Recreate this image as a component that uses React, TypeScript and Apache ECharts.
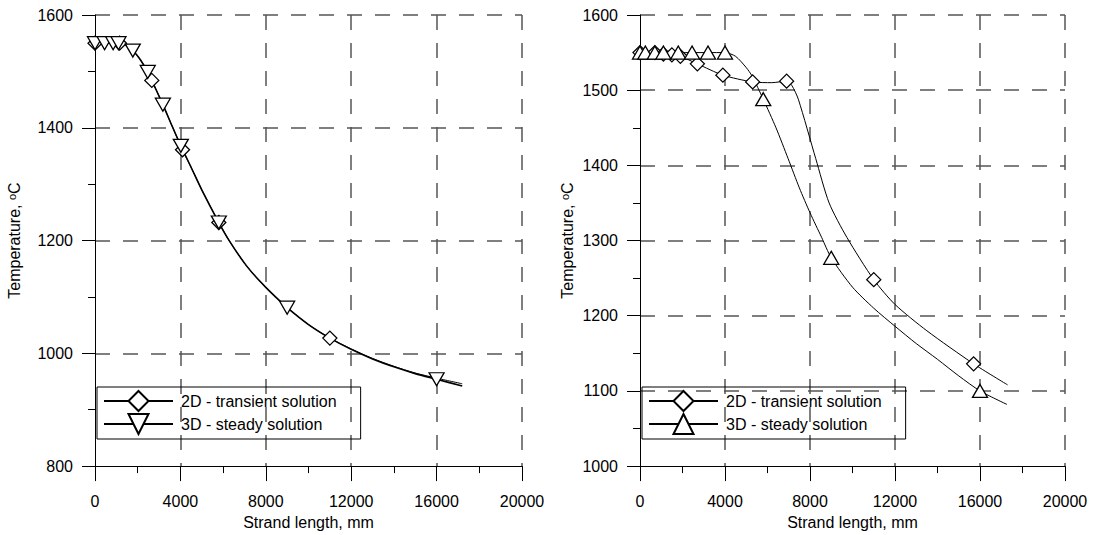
import React, { useEffect, useRef } from "react";
import * as echarts from "echarts";

const FONT = "'Liberation Sans', Arial, Helvetica, sans-serif";

// ---------- Left panel ----------
const L_X_TICKS = { min: 0, max: 20000, interval: 4000 };
const L_Y_TICKS = { min: 800, max: 1600, interval: 200 };

// 2D - transient solution (diamonds)
const L2D_MARK_X = [0, 1150, 2660, 4100, 5800, 11000];
const L2D_MARK_Y = [1550, 1550, 1484, 1361, 1232, 1027];
const L2D_LINE_X = [500, 1400, 1770, 2100, 2470, 3180, 3600, 4500, 5000, 6300, 7000, 7500, 8000, 8430, 9000, 10000, 12000, 13000, 14000, 15000, 16000, 17200];
const L2D_LINE_Y = [1550, 1548, 1537, 1522, 1499, 1441, 1404, 1330, 1290, 1199, 1160, 1137, 1117, 1101, 1081, 1051, 1008, 991, 977, 965, 956, 946];

// 3D - steady solution (down triangles)
const L3D_MARK_X = [0, 450, 850, 1100, 1770, 2470, 3180, 4020, 5800, 9000, 16000];
const L3D_MARK_Y = [1550, 1550, 1550, 1550, 1537, 1499, 1441, 1368, 1232, 1081, 954];
const L3D_LINE_X = [1400, 2100, 2660, 3600, 4500, 5000, 6300, 7000, 7500, 8000, 8430, 10000, 11000, 12000, 13000, 14000, 15000, 17200];
const L3D_LINE_Y = [1548, 1522, 1484, 1404, 1330, 1290, 1199, 1160, 1137, 1117, 1101, 1051, 1027, 1007, 990, 976, 964, 942];

// ---------- Right panel ----------
const R_X_TICKS = { min: 0, max: 20000, interval: 4000 };
const R_Y_TICKS = { min: 1000, max: 1600, interval: 100 };

// 2D - transient solution (diamonds)
const R2D_MARK_X = [0, 700, 1100, 1500, 1900, 2700, 3900, 5300, 6900, 11000, 15700];
const R2D_MARK_Y = [1550, 1550, 1548, 1547, 1545, 1535, 1520, 1511, 1512, 1248, 1136];
const R2D_LINE_X = [6200, 7150, 7450, 8270, 8900, 9740, 12000, 13500, 17300];
const R2D_LINE_Y = [1510, 1506, 1488, 1409, 1350, 1304, 1215, 1180, 1108];

// 3D - steady solution (up triangles)
const R3D_MARK_X = [0, 250, 700, 1100, 1800, 2450, 3200, 4000, 5800, 9000, 16000];
const R3D_MARK_Y = [1550, 1550, 1550, 1550, 1550, 1550, 1550, 1550, 1488, 1277, 1100];
const R3D_LINE_X = [4500, 5000, 5270, 6400, 6970, 7500, 8000, 8550, 10000, 11000, 12000, 13000, 14000, 15000, 17270];
const R3D_LINE_Y = [1545, 1530, 1519, 1450, 1409, 1370, 1337, 1304, 1238, 1210, 1186, 1163, 1142, 1120, 1082];

const LABELS: Record<string, string> = {
  L2D: "2D - transient solution",
  L3D: "3D - steady solution",
  R2D: "2D - transient solution",
  R3D: "3D - steady solution",
};

function buildData(mx: number[], my: number[], lx: number[], ly: number[]) {
  const pts: any[] = [];
  mx.forEach((x, i) => pts.push({ value: [x, my[i]] }));
  lx.forEach((x, i) => pts.push({ value: [x, ly[i]], symbol: "none" }));
  pts.sort((a, b) => a.value[0] - b.value[0]);
  return pts;
}

function makeSeries(
  name: string,
  data: any[],
  symbol: string,
  symbolSize: number | number[],
  rotate: number,
  width: number,
  axis: number
) {
  return {
    type: "line",
    name,
    xAxisIndex: axis,
    yAxisIndex: axis,
    data,
    smooth: 0.25,
    symbol,
    symbolSize,
    symbolRotate: rotate,
    showAllSymbol: true,
    lineStyle: { color: "#000", width },
    itemStyle: { color: "#fff", borderColor: "#000", borderWidth: 1.3 },
    emphasis: { disabled: true },
  };
}

function xAxis(grid: number, t: any) {
  return {
    type: "value",
    gridIndex: grid,
    min: t.min,
    max: t.max,
    interval: t.interval,
    name: "Strand length, mm",
    nameLocation: "middle",
    nameGap: 46,
    nameTextStyle: { fontFamily: FONT, fontSize: 16, color: "#000" },
    axisLine: { show: true, onZero: false, lineStyle: { color: "#000", width: 1 } },
    axisTick: { show: true, inside: false, length: 15, lineStyle: { color: "#000" } },
    minorTick: { show: true, splitNumber: 2, length: 7, lineStyle: { color: "#000" } },
    axisLabel: { fontFamily: FONT, fontSize: 16, color: "#000", margin: 27, formatter: (v: number) => String(v) },
    splitLine: {
      show: true,
      showMinLine: false,
      lineStyle: { color: "#555", width: 1.5, type: [15, 13] },
    },
  };
}

function yAxis(grid: number, t: any, gap: number) {
  return {
    type: "value",
    gridIndex: grid,
    min: t.min,
    max: t.max,
    interval: t.interval,
    name: "Temperature, {sup|o}C",
    nameLocation: "middle",
    nameGap: gap,
    nameTextStyle: {
      fontFamily: FONT,
      fontSize: 16,
      color: "#000",
      rich: { sup: { fontFamily: FONT, fontSize: 11, color: "#000", verticalAlign: "top", padding: [0, 0, 6, 0] } },
    },
    axisLine: { show: true, onZero: false, lineStyle: { color: "#000", width: 1 } },
    axisTick: { show: true, inside: false, length: 13, lineStyle: { color: "#000" } },
    minorTick: { show: true, splitNumber: 2, length: 7, lineStyle: { color: "#000" } },
    axisLabel: { fontFamily: FONT, fontSize: 16, color: "#000", margin: 22, formatter: (v: number) => String(v) },
    splitLine: {
      show: true,
      showMinLine: false,
      lineStyle: { color: "#555", width: 1.5, type: [15, 13] },
    },
  };
}

function legend(left: number, names: string[]) {
  return {
    show: true,
    orient: "vertical",
    left,
    top: 387,
    data: names,
    selectedMode: false,
    itemWidth: 69,
    itemHeight: 25,
    itemGap: 1,
    padding: [3, 24, 4, 6],
    borderColor: "#000",
    borderWidth: 1,
    formatter: (n: string) => LABELS[n],
    textStyle: { fontFamily: FONT, fontSize: 16, color: "#000", padding: [0, 0, 0, 3] },
  };
}

export default function App() {
  const ref = useRef<HTMLDivElement>(null);
  useEffect(() => {
    if (!ref.current) return;
    const chart = echarts.init(ref.current, undefined, { renderer: "svg" });
    chart.setOption({
      animation: false,
      backgroundColor: "#fff",
      grid: [
        { left: 95, top: 15, width: 427, height: 453 },
        { left: 640, top: 15, width: 425, height: 455 },
      ],
      xAxis: [xAxis(0, L_X_TICKS), xAxis(1, R_X_TICKS)],
      yAxis: [yAxis(0, L_Y_TICKS, 72), yAxis(1, R_Y_TICKS, 64)],
      legend: [legend(97, ["L2D", "L3D"]), legend(642, ["R2D", "R3D"])],
      series: [
        makeSeries("L2D", buildData(L2D_MARK_X, L2D_MARK_Y, L2D_LINE_X, L2D_LINE_Y), "diamond", 14, 0, 1, 0),
        makeSeries("L3D", buildData(L3D_MARK_X, L3D_MARK_Y, L3D_LINE_X, L3D_LINE_Y), "triangle", [15, 13], 180, 1.6, 0),
        makeSeries("R2D", buildData(R2D_MARK_X, R2D_MARK_Y, R2D_LINE_X, R2D_LINE_Y), "diamond", 14, 0, 1, 1),
        makeSeries("R3D", buildData(R3D_MARK_X, R3D_MARK_Y, R3D_LINE_X, R3D_LINE_Y), "triangle", [15, 13], 0, 1, 1),
      ],
    });
    return () => chart.dispose();
  }, []);
  return (
    <div
      ref={ref}
      style={{ position: "fixed", left: 0, top: 0, width: 1093, height: 535, background: "#fff" }}
    />
  );
}
